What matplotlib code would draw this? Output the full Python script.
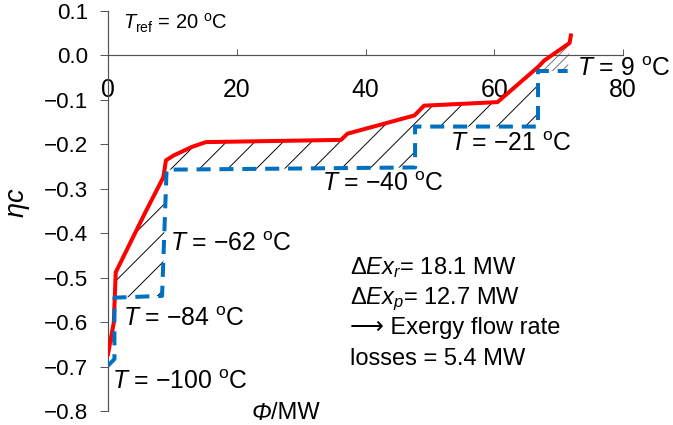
import numpy as np
import matplotlib
matplotlib.use("Agg")
import matplotlib.pyplot as plt

plt.rcParams['font.family'] = ['Liberation Sans', 'DejaVu Sans']
plt.rcParams['mathtext.fontset'] = 'custom'
plt.rcParams['mathtext.rm'] = 'Liberation Sans'
plt.rcParams['mathtext.it'] = 'Liberation Sans:italic'
plt.rcParams['hatch.linewidth'] = 0.8

# composite curves (Phi in MW, eta_c)
red_x = np.array([0, 0.9, 1.2, 5.8, 8.6, 9.0, 10.2, 13.0, 15.2, 36.2, 37.2,
                  47.6, 49.1, 60.5, 66.8, 67.8, 71.7, 71.9])
red_y = np.array([-0.672, -0.601, -0.488, -0.353, -0.274, -0.236, -0.225,
                  -0.206, -0.195, -0.190, -0.176, -0.135, -0.113, -0.105,
                  -0.026, -0.011, 0.028, 0.045])

blue_x = np.array([0, 1.0, 1.0, 8.4, 9.1, 47.7, 47.7, 66.8, 66.8, 71.4])
blue_y = np.array([-0.698, -0.683, -0.545, -0.541, -0.257, -0.252, -0.160,
                   -0.160, -0.035, -0.035])

split = 66.8

yticks = [0.1, 0.0, -0.1, -0.2, -0.3, -0.4, -0.5, -0.6, -0.7, -0.8]
ytick_labels = ["0.1", "0.0", "\u22120.1", "\u22120.2", "\u22120.3", "\u22120.4",
                "\u22120.5", "\u22120.6", "\u22120.7", "\u22120.8"]

# temperature labels: (x, y, text)
t_labels = [
    (72.8, -0.047, "9"),
    (53.1, -0.214, "\u221221"),
    (33.2, -0.306, "\u221240"),
    (9.6, -0.441, "\u221262"),
    (2.4, -0.608, "\u221284"),
    (0.57, -0.750, "\u2212100"),
]

info_lines = [
    r"$\Delta Ex_r$= 18.1 MW",
    r"$\Delta Ex_p$= 12.7 MW",
    "\u27f6 Exergy flow rate",
    "losses = 5.4 MW",
]
info_y = [-0.491, -0.559, -0.626, -0.696]

dpi = 85
fig = plt.figure(figsize=(673 / dpi, 425 / dpi), dpi=dpi)
ax = fig.add_axes([108 / 673, 1 - 411 / 425, 515 / 673, 400 / 425])

# hatched areas between the curves
lo_r = red_x <= split
lo_b = blue_x <= split
ax.fill(np.concatenate([red_x[lo_r], blue_x[lo_b][::-1]]),
        np.concatenate([red_y[lo_r], blue_y[lo_b][::-1]]),
        facecolor='none', edgecolor='black', hatch='/', linewidth=0, zorder=1)
hi_r = red_x >= split
hi_b = blue_x >= split
ax.fill(np.concatenate([red_x[hi_r], blue_x[hi_b][::-1]]),
        np.concatenate([red_y[hi_r], blue_y[hi_b][::-1]]),
        facecolor='none', edgecolor='#707070', hatch='///', linewidth=0, zorder=1)

ax.plot(red_x, red_y, color='#FF0000', lw=3.4, zorder=3, solid_joinstyle='round')
ax.plot(blue_x, blue_y, color='#0070C0', lw=3.4, ls=(0, (3.5, 2.2)), zorder=4)

ax.set_xlim(0, 80)
ax.set_ylim(-0.8, 0.1)
ax.set_xticks([0, 20, 40, 60, 80])
ax.set_yticks(yticks)
ax.set_yticklabels(ytick_labels)

for s in ['top', 'right']:
    ax.spines[s].set_visible(False)
ax.spines['bottom'].set_position(('data', 0))
for s in ['left', 'bottom']:
    ax.spines[s].set_color('#505050')
    ax.spines[s].set_linewidth(1.0)
ax.tick_params(axis='x', direction='in', length=5, pad=19, labelsize=21, color='#505050')
ax.tick_params(axis='y', direction='out', length=6.8, pad=10, labelsize=19, color='#505050')
ax.patch.set_visible(False)

ax.text(2.4, 0.058, r"$T_\mathrm{ref}$ = 20 $^\mathrm{o}$C", fontsize=17, va='baseline')
for x, y, t in t_labels:
    ax.text(x, y, "$T$ = " + t + r" $^\mathrm{o}$C", fontsize=21, va='baseline', zorder=5)
for t, y in zip(info_lines, info_y):
    ax.text(37.6, y, t, fontsize=20, va='baseline')

fig.text(19 / 673, 1 - 203 / 425, r"$\eta c$", fontsize=23, rotation=90,
         ha='center', va='center')
fig.text(271 / 673, 1 - 413 / 425, "\u03a6", fontsize=20, style='italic',
         ha='right', va='center')
fig.text(271 / 673, 1 - 413 / 425, "/MW", fontsize=20, ha='left', va='center')

fig.savefig("out.png", dpi=dpi)
